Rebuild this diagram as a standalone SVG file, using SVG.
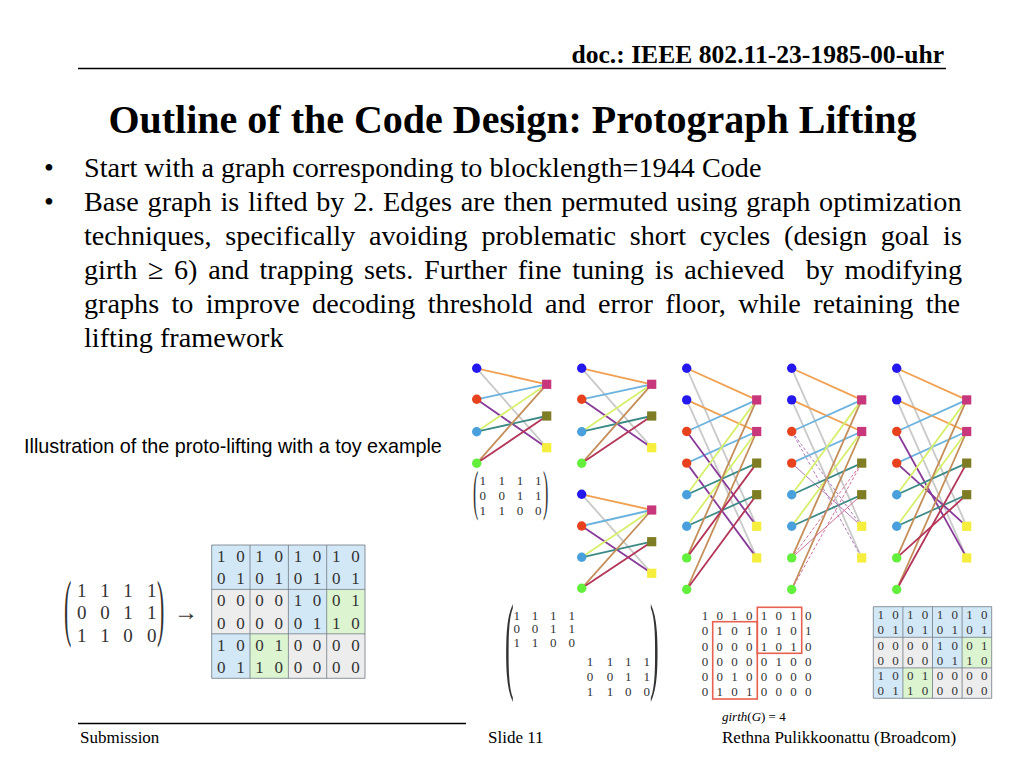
<svg xmlns="http://www.w3.org/2000/svg" xmlns:xlink="http://www.w3.org/1999/xlink" width="1024" height="768" viewBox="0 0 1024 768">
<style>
.serif{font-family:"Liberation Serif","Times New Roman",serif;fill:#000}
.sans{font-family:"Liberation Sans",Arial,sans-serif;fill:#000}
.hd{font-size:25.6px;font-weight:bold}
.tt{font-size:40px;font-weight:bold}
.bd{font-size:28.2px}
.ft{font-size:17px}
.mx{font-size:13px;fill:#333}
.mxl{font-size:19px;fill:#333}
.gl{font-size:17px;fill:#333}
.gr{font-size:13px;fill:#333}
.e{fill:none;stroke-width:1.8}
.th{fill:none;stroke-width:1}
.ds{stroke-dasharray:3 2}
.or{stroke:#f0a050}.gy{stroke:#c9c9c9}.sb{stroke:#6cb2de}.pu{stroke:#883a98}
.yg{stroke:#d6f06c}.te{stroke:#3c8a86}.ta{stroke:#c48e5a}.cr{stroke:#b33558}
.pl{stroke:#b07ab8}.cl{stroke:#d0709a}
.vb{fill:#2418ee}.vr{fill:#e8411e}.vl{fill:#4aa0dc}.vg{fill:#62f03c}
.cm{fill:#c8377c}.co{fill:#7e7d24}.cy{fill:#f6ee3c}
.bB{fill:#d3e8f6}.bG{fill:#ededed}.bN{fill:#dcf5d0}
.bl{stroke:#707a84;stroke-width:0.8;fill:none}
.red{fill:none;stroke:#e8604f;stroke-width:1.6}
</style>
<defs>
<circle id="v" r="4.7"/>
<rect id="c" x="-4.6" y="-4.6" width="9.2" height="9.2"/>
</defs>
<rect width="1024" height="768" fill="#fff"/>

<g id="header">
<text class="serif hd" x="944" y="63" text-anchor="end">doc.: IEEE 802.11-23-1985-00-uhr</text>
<line x1="78" y1="68.5" x2="946" y2="68.5" stroke="#000" stroke-width="1.5"/>
</g>
<text id="title" class="serif tt" x="512.5" y="133" text-anchor="middle">Outline of the Code Design: Protograph Lifting</text>

<g id="body" class="serif bd">
<text x="44" y="177">•</text>
<text x="84" y="177">Start with a graph corresponding to blocklength=1944 Code</text>
<text x="44" y="211">•</text>
<text x="84" y="211" style="word-spacing:1.7px">Base graph is lifted by 2. Edges are then permuted using graph optimization</text>
<text x="84" y="245" style="word-spacing:6.7px">techniques, specifically avoiding problematic short cycles (design goal is</text>
<text x="84" y="279" xml:space="preserve" style="word-spacing:3.6px">girth ≥ 6) and trapping sets. Further fine tuning is achieved  by modifying</text>
<text x="84" y="313" style="word-spacing:5.3px">graphs to improve decoding threshold and error floor, while retaining the</text>
<text x="84" y="347">lifting framework</text>
</g>

<text id="caption" class="sans" x="24" y="453" font-size="19.8">Illustration of the proto-lifting with a toy example</text>

<!-- Graph 1: base graph -->
<g id="graph-base">
<g id="graph-base-edges">
<line class="e gy" x1="476.7" y1="368.3" x2="546.7" y2="447.7"/>
<line class="e or" x1="476.7" y1="368.3" x2="546.7" y2="384.3"/>
<line class="e sb" x1="476.7" y1="399.3" x2="546.7" y2="384.3"/>
<line class="e pu" x1="476.7" y1="399.3" x2="546.7" y2="447.7"/>
<line class="e yg" x1="476.7" y1="431.7" x2="546.7" y2="384.3"/>
<line class="e te" x1="476.7" y1="431.7" x2="546.7" y2="416"/>
<line class="e ta" x1="476.7" y1="463.3" x2="546.7" y2="384.3"/>
<line class="e cr" x1="476.7" y1="463.3" x2="546.7" y2="416"/>
</g>
<use id="g1-v1" href="#v" class="vb" x="476.7" y="368.3"/>
<use id="g1-v2" href="#v" class="vr" x="476.7" y="399.3"/>
<use id="g1-v3" href="#v" class="vl" x="476.7" y="431.7"/>
<use id="g1-v4" href="#v" class="vg" x="476.7" y="463.3"/>
<use id="g1-c1" href="#c" class="cm" x="546.7" y="384.3"/>
<use id="g1-c2" href="#c" class="co" x="546.7" y="416"/>
<use id="g1-c3" href="#c" class="cy" x="546.7" y="447.7"/>
</g>

<g id="base-matrix" class="serif mx">
<text transform="translate(473,508.6) scale(1,3.41)" font-size="16">(</text>
<text transform="translate(543,508.6) scale(1,3.41)" font-size="16">)</text>
<text x="482.7 501.7 520 538.3" y="484.5" text-anchor="middle">1111</text>
<text x="482.7 501.7 520 538.3" y="499.5" text-anchor="middle">0011</text>
<text x="482.7 501.7 520 538.3" y="514.5" text-anchor="middle">1100</text>
</g>

<!-- Graph 2: two copies -->
<g id="graph-copies">
<g id="graph-copies-edges">
<line class="e gy" x1="581.7" y1="368.3" x2="651.7" y2="447.7"/>
<line class="e or" x1="581.7" y1="368.3" x2="651.7" y2="384.3"/>
<line class="e sb" x1="581.7" y1="399.3" x2="651.7" y2="384.3"/>
<line class="e pu" x1="581.7" y1="399.3" x2="651.7" y2="447.7"/>
<line class="e yg" x1="581.7" y1="431.7" x2="651.7" y2="384.3"/>
<line class="e te" x1="581.7" y1="431.7" x2="651.7" y2="416"/>
<line class="e ta" x1="581.7" y1="463.3" x2="651.7" y2="384.3"/>
<line class="e cr" x1="581.7" y1="463.3" x2="651.7" y2="416"/>
<line class="e gy" x1="581.7" y1="494.3" x2="651.7" y2="573.3"/>
<line class="e or" x1="581.7" y1="494.3" x2="651.7" y2="510"/>
<line class="e sb" x1="581.7" y1="526" x2="651.7" y2="510"/>
<line class="e pu" x1="581.7" y1="526" x2="651.7" y2="573.3"/>
<line class="e yg" x1="581.7" y1="557.3" x2="651.7" y2="510"/>
<line class="e te" x1="581.7" y1="557.3" x2="651.7" y2="541.7"/>
<line class="e ta" x1="581.7" y1="588.3" x2="651.7" y2="510"/>
<line class="e cr" x1="581.7" y1="588.3" x2="651.7" y2="541.7"/>
</g>
<use id="g2-v1a" href="#v" class="vb" x="581.7" y="368.3"/>
<use id="g2-v2a" href="#v" class="vr" x="581.7" y="399.3"/>
<use id="g2-v3a" href="#v" class="vl" x="581.7" y="431.7"/>
<use id="g2-v4a" href="#v" class="vg" x="581.7" y="463.3"/>
<use id="g2-c1a" href="#c" class="cm" x="651.7" y="384.3"/>
<use id="g2-c2a" href="#c" class="co" x="651.7" y="416"/>
<use id="g2-c3a" href="#c" class="cy" x="651.7" y="447.7"/>
<use id="g2-v1b" href="#v" class="vb" x="581.7" y="494.3"/>
<use id="g2-v2b" href="#v" class="vr" x="581.7" y="526"/>
<use id="g2-v3b" href="#v" class="vl" x="581.7" y="557.3"/>
<use id="g2-v4b" href="#v" class="vg" x="581.7" y="588.3"/>
<use id="g2-c1b" href="#c" class="cm" x="651.7" y="510"/>
<use id="g2-c2b" href="#c" class="co" x="651.7" y="541.7"/>
<use id="g2-c3b" href="#c" class="cy" x="651.7" y="573.3"/>
</g>

<!-- Graph 3: lifted, identity -->
<g id="graph-lift">
<g id="graph-lift-edges">
<line class="e gy" x1="686.7" y1="368.3" x2="756.7" y2="526.3"/>
<line class="e gy" x1="686.7" y1="399.9" x2="756.7" y2="557.9"/>
<line class="e or" x1="686.7" y1="368.3" x2="756.7" y2="399.9"/>
<line class="e or" x1="686.7" y1="399.9" x2="756.7" y2="431.5"/>
<line class="e sb" x1="686.7" y1="431.5" x2="756.7" y2="399.9"/>
<line class="e sb" x1="686.7" y1="463.1" x2="756.7" y2="431.5"/>
<line class="e pu" x1="686.7" y1="431.5" x2="756.7" y2="526.3"/>
<line class="e pu" x1="686.7" y1="463.1" x2="756.7" y2="557.9"/>
<line class="e yg" x1="686.7" y1="494.7" x2="756.7" y2="399.9"/>
<line class="e yg" x1="686.7" y1="526.3" x2="756.7" y2="431.5"/>
<line class="e te" x1="686.7" y1="494.7" x2="756.7" y2="463.1"/>
<line class="e te" x1="686.7" y1="526.3" x2="756.7" y2="494.7"/>
<line class="e ta" x1="686.7" y1="557.9" x2="756.7" y2="399.9"/>
<line class="e ta" x1="686.7" y1="589.5" x2="756.7" y2="431.5"/>
<line class="e cr" x1="686.7" y1="557.9" x2="756.7" y2="463.1"/>
<line class="e cr" x1="686.7" y1="589.5" x2="756.7" y2="494.7"/>
</g>
<use id="g3-v1" href="#v" class="vb" x="686.7" y="368.3"/>
<use id="g3-v2" href="#v" class="vb" x="686.7" y="399.9"/>
<use id="g3-v3" href="#v" class="vr" x="686.7" y="431.5"/>
<use id="g3-v4" href="#v" class="vr" x="686.7" y="463.1"/>
<use id="g3-v5" href="#v" class="vl" x="686.7" y="494.7"/>
<use id="g3-v6" href="#v" class="vl" x="686.7" y="526.3"/>
<use id="g3-v7" href="#v" class="vg" x="686.7" y="557.9"/>
<use id="g3-v8" href="#v" class="vg" x="686.7" y="589.5"/>
<use id="g3-c1" href="#c" class="cm" x="756.7" y="399.9"/>
<use id="g3-c2" href="#c" class="cm" x="756.7" y="431.5"/>
<use id="g3-c3" href="#c" class="co" x="756.7" y="463.1"/>
<use id="g3-c4" href="#c" class="co" x="756.7" y="494.7"/>
<use id="g3-c5" href="#c" class="cy" x="756.7" y="526.3"/>
<use id="g3-c6" href="#c" class="cy" x="756.7" y="557.9"/>
</g>

<!-- Graph 4: permutation in progress -->
<g id="graph-permute">
<g id="graph-permute-edges">
<line class="e gy" x1="791.7" y1="368.3" x2="861.7" y2="526.3"/>
<line class="e gy" x1="791.7" y1="399.9" x2="861.7" y2="557.9"/>
<line class="e or" x1="791.7" y1="368.3" x2="861.7" y2="399.9"/>
<line class="e or" x1="791.7" y1="399.9" x2="861.7" y2="431.5"/>
<line class="e sb" x1="791.7" y1="431.5" x2="861.7" y2="399.9"/>
<line class="e sb" x1="791.7" y1="463.1" x2="861.7" y2="431.5"/>
<line class="th pl ds" x1="791.7" y1="431.5" x2="861.7" y2="557.9"/>
<line class="th pl ds" x1="791.7" y1="431.5" x2="861.7" y2="526.3"/>
<line class="th pl" x1="791.7" y1="463.1" x2="861.7" y2="526.3"/>
<line class="e yg" x1="791.7" y1="494.7" x2="861.7" y2="399.9"/>
<line class="e yg" x1="791.7" y1="526.3" x2="861.7" y2="431.5"/>
<line class="e te" x1="791.7" y1="494.7" x2="861.7" y2="463.1"/>
<line class="e te" x1="791.7" y1="526.3" x2="861.7" y2="494.7"/>
<line class="e ta" x1="791.7" y1="557.9" x2="861.7" y2="399.9"/>
<line class="e ta" x1="791.7" y1="589.5" x2="861.7" y2="431.5"/>
<line class="th cl" x1="791.7" y1="557.9" x2="861.7" y2="494.7"/>
<line class="th cl ds" x1="791.7" y1="557.9" x2="861.7" y2="463.1"/>
<line class="th cl ds" x1="791.7" y1="589.5" x2="861.7" y2="463.1"/>
</g>
<use id="g4-v1" href="#v" class="vb" x="791.7" y="368.3"/>
<use id="g4-v2" href="#v" class="vb" x="791.7" y="399.9"/>
<use id="g4-v3" href="#v" class="vr" x="791.7" y="431.5"/>
<use id="g4-v4" href="#v" class="vr" x="791.7" y="463.1"/>
<use id="g4-v5" href="#v" class="vl" x="791.7" y="494.7"/>
<use id="g4-v6" href="#v" class="vl" x="791.7" y="526.3"/>
<use id="g4-v7" href="#v" class="vg" x="791.7" y="557.9"/>
<use id="g4-v8" href="#v" class="vg" x="791.7" y="589.5"/>
<use id="g4-c1" href="#c" class="cm" x="861.7" y="399.9"/>
<use id="g4-c2" href="#c" class="cm" x="861.7" y="431.5"/>
<use id="g4-c3" href="#c" class="co" x="861.7" y="463.1"/>
<use id="g4-c4" href="#c" class="co" x="861.7" y="494.7"/>
<use id="g4-c5" href="#c" class="cy" x="861.7" y="526.3"/>
<use id="g4-c6" href="#c" class="cy" x="861.7" y="557.9"/>
</g>

<!-- Graph 5: permuted -->
<g id="graph-final">
<g id="graph-final-edges">
<line class="e gy" x1="896.7" y1="368.3" x2="966.7" y2="526.3"/>
<line class="e gy" x1="896.7" y1="399.9" x2="966.7" y2="557.9"/>
<line class="e or" x1="896.7" y1="368.3" x2="966.7" y2="399.9"/>
<line class="e or" x1="896.7" y1="399.9" x2="966.7" y2="431.5"/>
<line class="e sb" x1="896.7" y1="431.5" x2="966.7" y2="399.9"/>
<line class="e sb" x1="896.7" y1="463.1" x2="966.7" y2="431.5"/>
<line class="e pu" x1="896.7" y1="431.5" x2="966.7" y2="557.9"/>
<line class="e pu" x1="896.7" y1="463.1" x2="966.7" y2="526.3"/>
<line class="e yg" x1="896.7" y1="494.7" x2="966.7" y2="399.9"/>
<line class="e yg" x1="896.7" y1="526.3" x2="966.7" y2="431.5"/>
<line class="e te" x1="896.7" y1="494.7" x2="966.7" y2="463.1"/>
<line class="e te" x1="896.7" y1="526.3" x2="966.7" y2="494.7"/>
<line class="e ta" x1="896.7" y1="557.9" x2="966.7" y2="399.9"/>
<line class="e ta" x1="896.7" y1="589.5" x2="966.7" y2="431.5"/>
<line class="e cr" x1="896.7" y1="557.9" x2="966.7" y2="494.7"/>
<line class="e cr" x1="896.7" y1="589.5" x2="966.7" y2="463.1"/>
</g>
<use id="g5-v1" href="#v" class="vb" x="896.7" y="368.3"/>
<use id="g5-v2" href="#v" class="vb" x="896.7" y="399.9"/>
<use id="g5-v3" href="#v" class="vr" x="896.7" y="431.5"/>
<use id="g5-v4" href="#v" class="vr" x="896.7" y="463.1"/>
<use id="g5-v5" href="#v" class="vl" x="896.7" y="494.7"/>
<use id="g5-v6" href="#v" class="vl" x="896.7" y="526.3"/>
<use id="g5-v7" href="#v" class="vg" x="896.7" y="557.9"/>
<use id="g5-v8" href="#v" class="vg" x="896.7" y="589.5"/>
<use id="g5-c1" href="#c" class="cm" x="966.7" y="399.9"/>
<use id="g5-c2" href="#c" class="cm" x="966.7" y="431.5"/>
<use id="g5-c3" href="#c" class="co" x="966.7" y="463.1"/>
<use id="g5-c4" href="#c" class="co" x="966.7" y="494.7"/>
<use id="g5-c5" href="#c" class="cy" x="966.7" y="526.3"/>
<use id="g5-c6" href="#c" class="cy" x="966.7" y="557.9"/>
</g>

<!-- Left: base matrix -> lifted matrix -->
<g id="left-matrix" class="serif mxl">
<text transform="translate(64,631.8) scale(1,3.37)" font-size="22">(</text>
<text transform="translate(157,631.8) scale(1,3.37)" font-size="22">)</text>
<text x="81.7 105 128 151.7" y="596.5" text-anchor="middle">1111</text>
<text x="81.7 105 128 151.7" y="618.5" text-anchor="middle">0011</text>
<text x="81.7 105 128 151.7" y="641.5" text-anchor="middle">1100</text>
<text x="186" y="619.5" text-anchor="middle" font-size="24">→</text>
</g>

<g id="lifted-grid-left">
<rect class="bB" x="211.7" y="545" width="153.3" height="44.4"/>
<rect class="bG" x="211.7" y="589.4" width="76.7" height="44.4"/>
<rect class="bB" x="288.4" y="589.4" width="38.3" height="44.4"/>
<rect class="bN" x="326.7" y="589.4" width="38.3" height="44.4"/>
<rect class="bB" x="211.7" y="633.8" width="38.3" height="44.5"/>
<rect class="bN" x="250" y="633.8" width="38.4" height="44.5"/>
<rect class="bG" x="288.4" y="633.8" width="76.6" height="44.5"/>
<path class="bl" d="M211.7 545H365V678.3H211.7Z M211.7 589.4H365 M211.7 633.8H365 M250 545V678.3 M288.4 545V678.3 M326.7 545V678.3"/>
<g class="serif gl">
<text x="221.3 240.5 259.6 278.8 298 317.1 336.3 355.4" y="562" text-anchor="middle">10101010</text>
<text x="221.3 240.5 259.6 278.8 298 317.1 336.3 355.4" y="584.2" text-anchor="middle">01010101</text>
<text x="221.3 240.5 259.6 278.8 298 317.1 336.3 355.4" y="606.4" text-anchor="middle">00001001</text>
<text x="221.3 240.5 259.6 278.8 298 317.1 336.3 355.4" y="628.6" text-anchor="middle">00000110</text>
<text x="221.3 240.5 259.6 278.8 298 317.1 336.3 355.4" y="650.8" text-anchor="middle">10010000</text>
<text x="221.3 240.5 259.6 278.8 298 317.1 336.3 355.4" y="673" text-anchor="middle">01100000</text>
</g>
</g>

<!-- Block diagonal matrix -->
<g id="blockdiag-matrix" class="serif mx">
<text transform="translate(505,679.3) scale(1,4.13)" font-size="26">(</text>
<text transform="translate(650,679.3) scale(1,4.13)" font-size="26">)</text>
<text x="516.7 535 553.3 571.7" y="619.5" text-anchor="middle">1111</text>
<text x="516.7 535 553.3 571.7" y="633" text-anchor="middle">0011</text>
<text x="516.7 535 553.3 571.7" y="646.5" text-anchor="middle">1100</text>
<text x="590 610 628.3 646.7" y="666.2" text-anchor="middle">1111</text>
<text x="590 610 628.3 646.7" y="681.2" text-anchor="middle">0011</text>
<text x="590 610 628.3 646.7" y="696.2" text-anchor="middle">1100</text>
</g>

<!-- girth matrix -->
<g id="girth-matrix">
<rect class="red" x="712.7" y="621.7" width="44.6" height="77.3"/>
<rect class="red" x="757.3" y="607.3" width="44.4" height="46"/>
<g class="serif gr">
<text x="705 719.8 734.5 749.3 764 778.8 793.6 808.3" y="620.2" text-anchor="middle">10101010</text>
<text x="705 719.8 734.5 749.3 764 778.8 793.6 808.3" y="635.4" text-anchor="middle">01010101</text>
<text x="705 719.8 734.5 749.3 764 778.8 793.6 808.3" y="650.6" text-anchor="middle">00001010</text>
<text x="705 719.8 734.5 749.3 764 778.8 793.6 808.3" y="665.8" text-anchor="middle">00000100</text>
<text x="705 719.8 734.5 749.3 764 778.8 793.6 808.3" y="681" text-anchor="middle">00100000</text>
<text x="705 719.8 734.5 749.3 764 778.8 793.6 808.3" y="696.2" text-anchor="middle">01010000</text>
</g>
<text class="serif" x="722" y="720.5" font-size="13" fill="#333"><tspan font-style="italic">girth</tspan>(<tspan font-style="italic">G</tspan>) = 4</text>
</g>

<g id="lifted-grid-right">
<rect class="bB" x="873.3" y="606.7" width="118.4" height="30.6"/>
<rect class="bG" x="873.3" y="637.3" width="59.2" height="30.6"/>
<rect class="bB" x="932.5" y="637.3" width="29.6" height="30.6"/>
<rect class="bN" x="962.1" y="637.3" width="29.6" height="30.6"/>
<rect class="bB" x="873.3" y="667.9" width="29.6" height="30.4"/>
<rect class="bN" x="902.9" y="667.9" width="29.6" height="30.4"/>
<rect class="bG" x="932.5" y="667.9" width="59.2" height="30.4"/>
<path class="bl" d="M873.3 606.7H991.7V698.3H873.3Z M873.3 637.3H991.7 M873.3 667.9H991.7 M902.9 606.7V698.3 M932.5 606.7V698.3 M962.1 606.7V698.3"/>
<g class="serif gr">
<text x="880.7 895.5 910.3 925.1 939.9 954.7 969.5 984.3" y="618.9" text-anchor="middle">10101010</text>
<text x="880.7 895.5 910.3 925.1 939.9 954.7 969.5 984.3" y="634.2" text-anchor="middle">01010101</text>
<text x="880.7 895.5 910.3 925.1 939.9 954.7 969.5 984.3" y="649.5" text-anchor="middle">00001001</text>
<text x="880.7 895.5 910.3 925.1 939.9 954.7 969.5 984.3" y="664.8" text-anchor="middle">00000110</text>
<text x="880.7 895.5 910.3 925.1 939.9 954.7 969.5 984.3" y="680.1" text-anchor="middle">10010000</text>
<text x="880.7 895.5 910.3 925.1 939.9 954.7 969.5 984.3" y="695.4" text-anchor="middle">01100000</text>
</g>
</g>

<g id="footer" class="serif ft">
<line x1="78" y1="723.5" x2="466" y2="723.5" stroke="#000" stroke-width="1.5"/>
<text x="80" y="742.5">Submission</text>
<text x="488" y="742.5">Slide 11</text>
<text x="722" y="742.5">Rethna Pulikkoonattu (Broadcom)</text>
</g>
</svg>
